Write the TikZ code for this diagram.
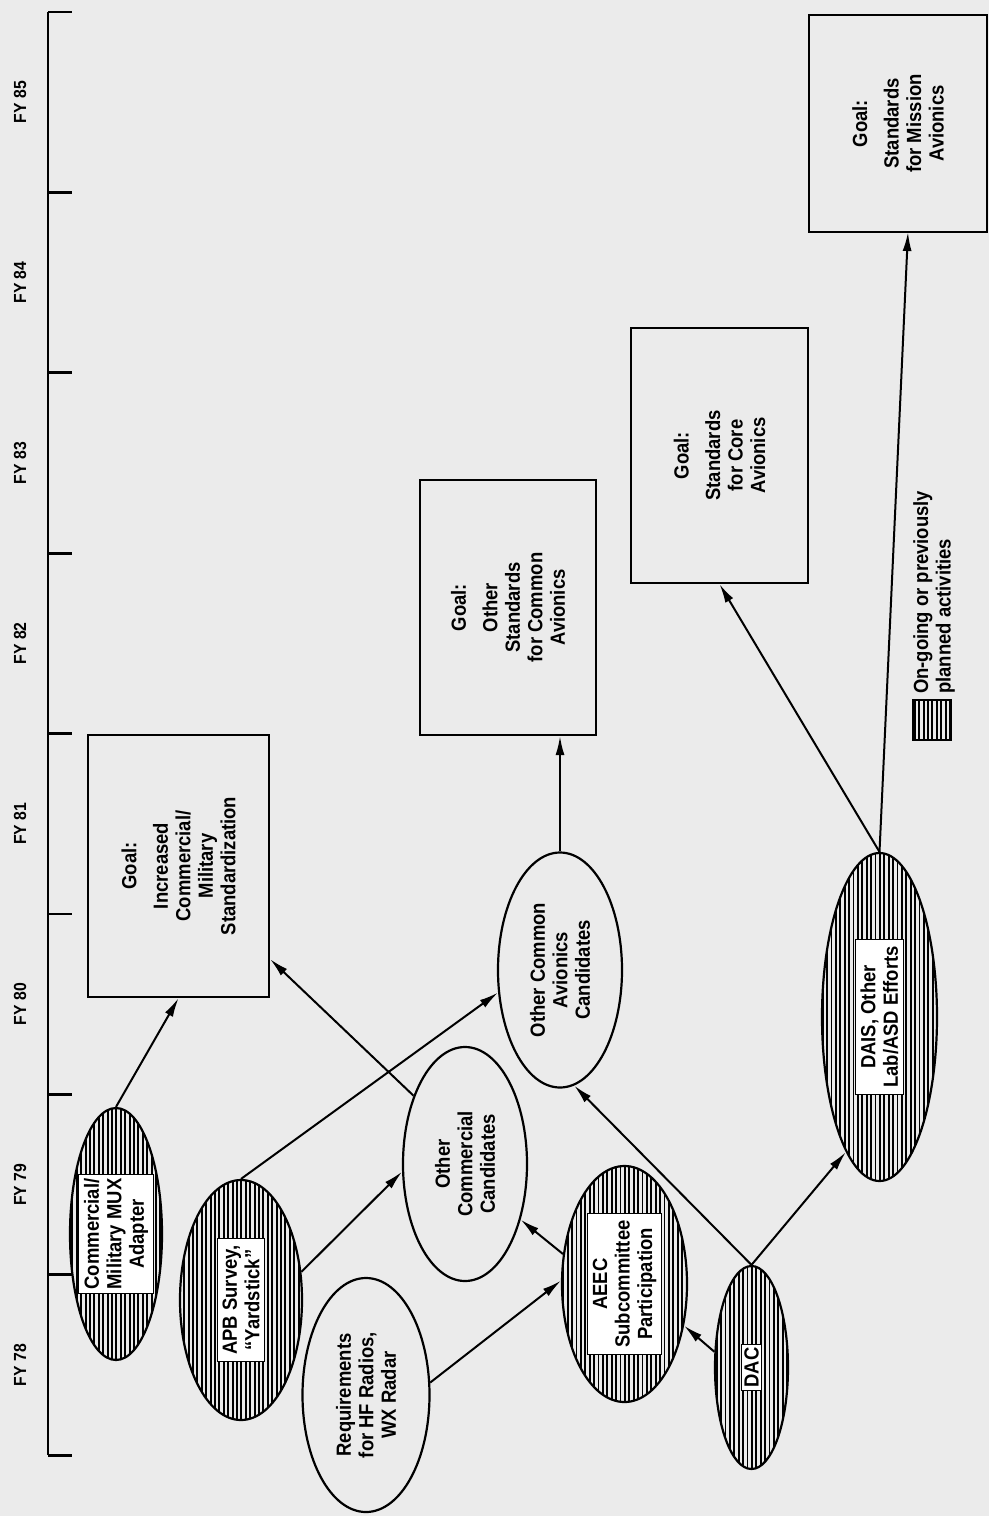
\documentclass[tikz,border=0pt]{standalone}
\usepackage{fontspec}
\setmainfont{Liberation Sans}[FakeStretch=0.9]
\usetikzlibrary{shapes.geometric,arrows.meta,calc}
\begin{document}
\begin{tikzpicture}[x=1pt,y=-1pt,
  axis/.style={line width=2.8pt},
  arr/.style={line width=2pt,-{Latex[length=19pt,width=9pt]}},
  goalbox/.style={draw,line width=2.2pt,inner sep=0pt},
  ell/.style={ellipse,draw,line width=2.2pt,inner sep=0pt},
  vlines/.style={path picture={\foreach \hx in {-70,-65.6,...,70}{\draw[line width=1.9pt]
      ([xshift=\hx pt]path picture bounding box.north) -- ([xshift=\hx pt]path picture bounding box.south);}}},
  hatch/.style={ell,vlines},
  txt/.style={rotate=90,align=center,font=\bfseries\fontsize{20.5}{22.5}\selectfont,inner sep=2pt},
  tbox/.style={txt,fill=white,draw,line width=0.9pt,inner xsep=7pt,inner ysep=5pt},
  fy/.style={rotate=90,font=\bfseries\fontsize{17.5}{20}\selectfont,inner sep=0pt}]
\useasboundingbox (0,0) rectangle (989,1516);
\fill[black!8] (0,0) rectangle (989,1516);
% timeline
\coordinate (ttop) at (48,12);
\coordinate (tbot) at (48,1455);
\draw[axis] (ttop) -- (tbot);
\foreach \i in {0,...,8}{\draw[axis] (48,{12+\i*180.4}) -- ++(24,0);}
\foreach \l [count=\k from 0] in {85,84,83,82,81,80,79,78}{
  \node[fy] (fy\l) at (20,{12+\k*180.4+90.2}) {FY \l};}
% goal boxes
\node[goalbox,minimum width=181pt,minimum height=262pt] (box1) at (178.5,866) {};
\node[txt] (box1t) at (box1.center) {Goal:\\[9pt]Increased\\Commercial/\\Military\\Standardization};
\node[goalbox,minimum width=176pt,minimum height=255pt] (box2) at (508,607.5) {};
\node[txt] (box2t) at (box2.center) {Goal:\\[9pt]Other\\Standards\\for Common\\Avionics};
\node[goalbox,minimum width=177pt,minimum height=255pt] (box3) at (719.5,455.5) {};
\node[txt] (box3t) at (box3.center) {Goal:\\[9pt]Standards\\for Core\\Avionics};
\node[goalbox,minimum width=178pt,minimum height=217pt] (box4) at (898,123.5) {};
\node[txt] (box4t) at (box4.center) {Goal:\\[9pt]Standards\\for Mission\\Avionics};
% ellipses
\node[hatch,minimum width=92pt,minimum height=252pt] (mux) at (116,1234) {};
\node[tbox,inner xsep=4pt] (muxt) at (mux.center) {Commercial/\\Military MUX\\Adapter};
\node[hatch,minimum width=122pt,minimum height=240pt] (apb) at (241,1300) {};
\node[tbox] (apbt) at (apb.center) {APB Survey,\\“Yardstick”};
\node[ell,minimum width=127pt,minimum height=234pt] (req) at (366,1395) {};
\node[txt] (reqt) at (req.center) {Requirements\\for HF Radios,\\WX Radar};
\node[ell,minimum width=124pt,minimum height=234pt] (ocomm) at (465,1164) {};
\node[txt] (ocommt) at (ocomm.center) {Other\\Commercial\\Candidates};
\node[ell,minimum width=124pt,minimum height=235pt] (ocommon) at (560,970) {};
\node[txt] (ocommont) at (ocommon.center) {Other Common\\Avionics\\Candidates};
\node[hatch,minimum width=125pt,minimum height=236pt] (aeec) at (624.5,1284) {};
\node[tbox] (aeect) at (aeec.center) {AEEC\\Subcommittee\\Participation};
\node[hatch,minimum width=73pt,minimum height=203pt] (dac) at (751.5,1367.5) {};
\node[tbox,inner sep=3pt] (dact) at (dac.center) {DAC};
\node[hatch,minimum width=115pt,minimum height=328pt] (dais) at (879.5,1017) {};
\node[tbox] (daist) at (dais.center) {DAIS, Other\\Lab/ASD Efforts};
% legend
\node[draw,line width=1.4pt,minimum width=38pt,minimum height=40pt,inner sep=0pt,vlines] (legsq) at (932,720) {};
\node[txt,align=left,anchor=west,inner sep=0pt] (legt) at (934,694) {On-going or previously\\planned activities};
% connectors
\coordinate (b1e) at ($(box1.south east)+(0,-39)$);
\coordinate (b4s) at (908,232);
\draw[arr] (mux.north) -- (box1.south);
\draw[arr] (ocomm.127) -- (b1e);
\draw[arr] (apb.north) -- (ocommon.200);
\draw[arr] (apb.25) -- (ocomm.187);
\draw[arr] (req.11) -- (aeec.177);
\draw[arr] (aeec.154) -- (ocomm.315);
\draw[arr] (dac.157) -- (aeec.325);
\draw[arr] (dac.north) -- (ocommon.277);
\draw[arr] (dac.north) -- (dais.256);
\draw[arr] (ocommon.north) -- (ocommon.north |- box2.south);
\draw[arr] (dais.north) -- (box3.south);
\draw[arr] (dais.north) -- (b4s);
\end{tikzpicture}
\end{document}
